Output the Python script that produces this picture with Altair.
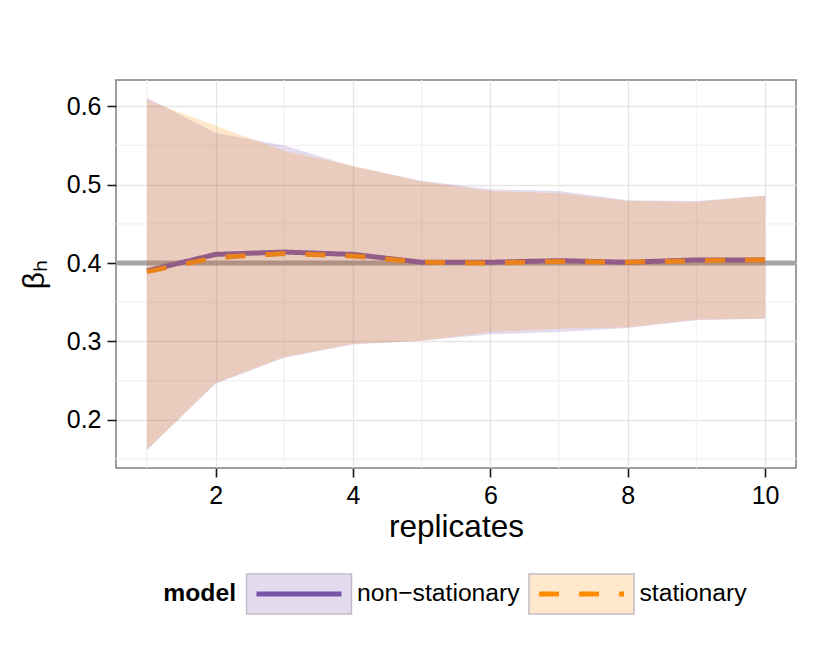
import altair as alt
import pandas as pd

# ---------------- data ----------------
replicates = [1, 2, 3, 4, 5, 6, 7, 8, 9, 10]
models = ["non\u2212stationary", "stationary"]

ns_mean = [0.390, 0.411, 0.414, 0.411, 0.401, 0.401, 0.403, 0.401, 0.404, 0.404]
st_mean = [0.389, 0.407, 0.412, 0.409, 0.401, 0.400, 0.402, 0.401, 0.403, 0.404]
ns_upper = [0.611, 0.566, 0.550, 0.523, 0.505, 0.494, 0.492, 0.480, 0.479, 0.486]
st_upper = [0.608, 0.575, 0.543, 0.524, 0.504, 0.492, 0.489, 0.479, 0.478, 0.486]
ns_lower = [0.161, 0.246, 0.279, 0.296, 0.301, 0.309, 0.312, 0.317, 0.327, 0.329]
st_lower = [0.162, 0.247, 0.280, 0.297, 0.301, 0.312, 0.316, 0.318, 0.328, 0.329]

reference_value = [0.4]
x_ticks = [2, 4, 6, 8, 10]
x_minor = [1, 3, 5, 7, 9]
y_ticks = [0.2, 0.3, 0.4, 0.5, 0.6]
y_minor = [0.15, 0.25, 0.35, 0.45, 0.55]

line_colors = ["#7851A9", "#FF8C00"]

rows = []
for m, mean, lo, hi in [(models[0], ns_mean, ns_lower, ns_upper),
                        (models[1], st_mean, st_lower, st_upper)]:
    for r, a, b, c in zip(replicates, mean, lo, hi):
        rows.append({"model": m, "replicates": r, "mean": a, "lower": b, "upper": c})
df = pd.DataFrame(rows)

# ---------------- scales / axes ----------------
xscale = alt.Scale(domain=[0.55, 10.45], nice=False, zero=False)
yscale = alt.Scale(domain=[0.1385, 0.6335], nice=False, zero=False)
color_scale = alt.Scale(domain=models, range=line_colors)
dash_scale = alt.Scale(domain=models, range=[[1, 0], [20, 20]])

x_axis = alt.Axis(values=x_ticks, title="replicates", format="d", grid=True,
                  labelPadding=6, titlePadding=3, titleFontSize=31.5)
y_axis = alt.Axis(values=y_ticks, title="\u03b2\u2095", format=".1f", grid=True,
                  labelPadding=6, titlePadding=17, titleFontSize=30)


def X(field):
    return alt.X(field, type="quantitative", scale=xscale, axis=x_axis)


def Y(field):
    return alt.Y(field, type="quantitative", scale=yscale, axis=y_axis)


minor_x = alt.Chart(pd.DataFrame({"v": x_minor})).mark_rule(
    color="#F2F2F2", strokeWidth=1.3).encode(x=X("v"))
minor_y = alt.Chart(pd.DataFrame({"v": y_minor})).mark_rule(
    color="#F2F2F2", strokeWidth=1.3).encode(y=Y("v"))
hline = alt.Chart(pd.DataFrame({"v": reference_value})).mark_rule(
    color="#A6A6A6", strokeWidth=5).encode(y=Y("v"))

base = alt.Chart(df)

line_ns = base.transform_filter(alt.datum.model == models[0]).mark_line(
    strokeWidth=5).encode(
    x=X("replicates"), y=Y("mean"),
    stroke=alt.Stroke("model:N", scale=color_scale, legend=None),
    strokeDash=alt.StrokeDash("model:N", scale=dash_scale, legend=None))
line_st = base.transform_filter(alt.datum.model == models[1]).mark_line(
    strokeWidth=5).encode(
    x=X("replicates"), y=Y("mean"),
    stroke=alt.Stroke("model:N", scale=color_scale, legend=None),
    strokeDash=alt.StrokeDash("model:N", scale=dash_scale, legend=None))

area_ns = base.transform_filter(alt.datum.model == models[0]).mark_area(
    opacity=0.2).encode(
    x=X("replicates"), y=Y("lower"), y2="upper",
    fill=alt.Fill("model:N", scale=color_scale, legend=None))
area_st = base.transform_filter(alt.datum.model == models[1]).mark_area(
    opacity=0.2).encode(
    x=X("replicates"), y=Y("lower"), y2="upper",
    fill=alt.Fill("model:N", scale=color_scale, legend=None))

main = alt.layer(minor_x, minor_y, hline, line_ns, line_st, area_ns, area_st).properties(
    width=680, height=388)

# ---------------- legend (drawn from the same scales) ----------------
leg = alt.Chart(pd.DataFrame({"model": models})).encode(
    x=alt.X("model:N", scale=alt.Scale(type="point", domain=models,
                                       range=[183, 465.5], padding=0), axis=None))
leg_box = leg.mark_rect(width=105, stroke="#C2BCC6", strokeWidth=1.5).encode(
    y=alt.value(0), y2=alt.value(40),
    fill=alt.Fill("model:N", scale=color_scale, legend=None),
    fillOpacity=alt.value(0.2))
leg_line = leg.mark_rule(xOffset=-42.5, x2Offset=42.5, strokeWidth=5).encode(
    x2=alt.X2("model:N"), y=alt.value(20),
    stroke=alt.Stroke("model:N", scale=color_scale, legend=None),
    strokeDash=alt.StrokeDash("model:N", scale=dash_scale, legend=None))
leg_text = leg.mark_text(align="left", baseline="middle", dx=58, fontSize=24.7,
                         color="black").encode(y=alt.value(20), text="model:N")
leg_title = alt.Chart(pd.DataFrame({"t": ["model"]})).mark_text(
    align="right", baseline="middle", fontSize=24.7, fontWeight="bold",
    color="black").encode(x=alt.value(120), y=alt.value(20), text="t:N")

legend_chart = alt.layer(leg_box, leg_line, leg_text, leg_title).properties(
    width=680, height=40, view=alt.ViewBackground(strokeOpacity=0))

chart = alt.vconcat(main, legend_chart, spacing=29).properties(
    padding={"left": 10, "top": 70, "right": 10, "bottom": 5}
).configure(font="Liberation Sans").configure_view(
    stroke="#7F7F7F", strokeWidth=1.5
).configure_axis(
    domain=False, gridColor="#E5E5E5", gridWidth=1.3,
    tickColor="#1A1A1A", tickSize=9, tickWidth=1.6,
    labelFontSize=25, labelColor="black", titleColor="black",
    titleFontWeight="normal", labelFont="Liberation Sans", titleFont="Liberation Sans"
)

chart.save("out.html", embed_options={"renderer": "svg", "actions": False})
